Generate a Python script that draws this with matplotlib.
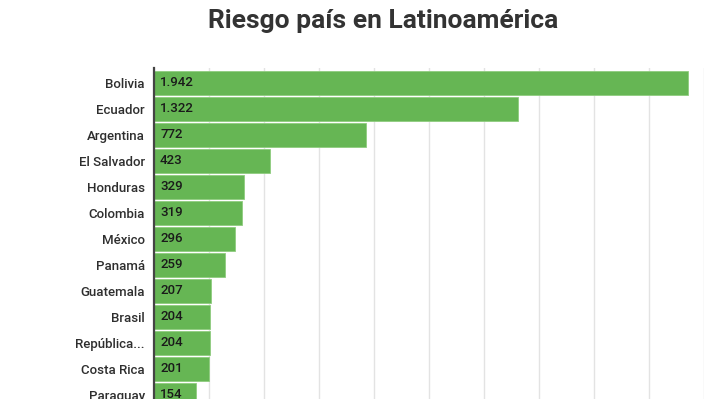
import matplotlib
matplotlib.use("Agg")
import matplotlib.pyplot as plt

countries = ["Bolivia", "Ecuador", "Argentina", "El Salvador", "Honduras", "Colombia",
             "México", "Panamá", "Guatemala", "Brasil", "República...", "Costa Rica", "Paraguay"]
values = [1942, 1322, 772, 423, 329, 319, 296, 259, 207, 204, 204, 201, 154]
title = "Riesgo país en Latinoamérica"

W, H = 720, 399
fig = plt.figure(figsize=(W / 100, H / 100), dpi=100)
fig.patch.set_facecolor("white")

# axes geometry in pixels
left_px, right_px = 154, 704
top_px = 68
row_px = 26
first_center = 83
ytop = -(first_center - top_px) / row_px
ybottom = 13.5
bottom_px = first_center + row_px * ybottom
ax = fig.add_axes([left_px / W, (H - bottom_px) / H,
                   (right_px - left_px) / W, (bottom_px - top_px) / H])

ypos = list(range(len(countries)))
ax.barh(ypos, values, height=0.9, color="#66b654", edgecolor="#8fcc7f",
        linewidth=0.6, zorder=2)
ax.set_xlim(0, 2000)
ax.set_ylim(ybottom, ytop)
ax.set_xticks(range(0, 2001, 200))
ax.xaxis.grid(True, color="#e3e3e3", linewidth=1.0, zorder=0)
ax.set_axisbelow(True)
ax.tick_params(axis="x", length=0, labelbottom=False)
ax.tick_params(axis="y", length=0, pad=6.5)
ax.set_yticks(ypos)
ax.set_yticklabels(countries, fontsize=9.5, color="#2e2e2e", family="Roboto",
                   fontweight="medium")
for s in ["top", "right", "bottom"]:
    ax.spines[s].set_visible(False)
ax.spines["left"].set_color("#444444")
ax.spines["left"].set_linewidth(1.6)
ax.spines["left"].set_zorder(3)

for y, v in zip(ypos, values):
    label = f"{v:,}".replace(",", ".")
    ax.text(22, y, label, va="center", ha="left", fontsize=9.5,
            color="#1a1a1a", family="Roboto", fontweight="medium", zorder=4)

fig.text(383 / W, 1 - 21 / H, title, ha="center", va="center", fontsize=19,
         fontweight="bold", color="#333333", family="Roboto")

fig.savefig("out.png", dpi=100)
